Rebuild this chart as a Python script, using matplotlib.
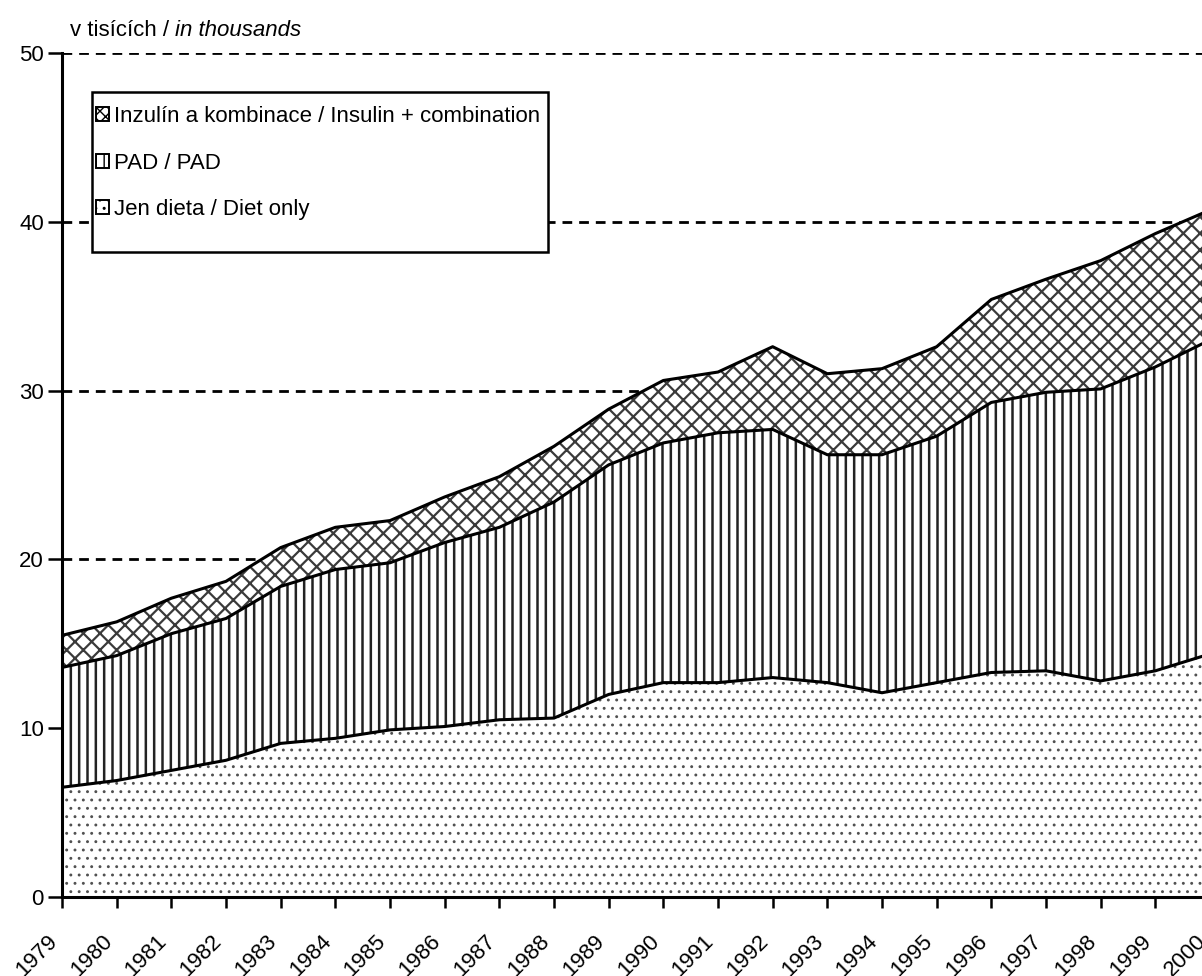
import numpy as np
import matplotlib
matplotlib.use("Agg")
import matplotlib.pyplot as plt
from matplotlib.patches import Patch, Rectangle

plt.rcParams['font.family'] = ['Liberation Sans', 'DejaVu Sans']

# Data (thousands of persons)
years = [1979, 1980, 1981, 1982, 1983, 1984, 1985, 1986, 1987, 1988, 1989,
         1990, 1991, 1992, 1993, 1994, 1995, 1996, 1997, 1998, 1999, 2000]
diet_only = [6.5, 6.9, 7.5, 8.1, 9.1, 9.4, 9.9, 10.1, 10.5, 10.6, 12.0,
             12.7, 12.7, 13.0, 12.7, 12.1, 12.7, 13.3, 13.4, 12.8, 13.4, 14.4]
pad = [7.1, 7.4, 8.1, 8.4, 9.3, 10.0, 9.9, 10.9, 11.4, 12.8, 13.6,
       14.2, 14.8, 14.7, 13.5, 14.1, 14.6, 16.0, 16.5, 17.3, 18.0, 18.6]
insulin = [1.9, 2.0, 2.1, 2.2, 2.3, 2.5, 2.5, 2.7, 3.0, 3.3, 3.3,
           3.7, 3.6, 4.9, 4.8, 5.1, 5.3, 6.1, 6.7, 7.6, 7.9, 7.7]

labels = ["Jen dieta / Diet only", "PAD / PAD",
          "Inzulín a kombinace / Insulin + combination"]
hatches = ['..', '||', 'xx']
hatch_colors = ['#505050', '#222222', '#3a3a3a']
hatch_widths = [0.9, 1.8, 1.6]

layers = np.array([diet_only, pad, insulin])
tops = np.cumsum(layers, axis=0)
bottoms = np.vstack([np.zeros(len(years)), tops[:-1]])

fig = plt.figure(figsize=(12.02, 9.76), dpi=100)
ax = fig.add_axes([62 / 1202, 79 / 976, 1148 / 1202, 844 / 976])

for i in range(3):
    with plt.rc_context({'hatch.linewidth': hatch_widths[i]}):
        ax.fill_between(years, bottoms[i], tops[i], facecolor='white',
                        edgecolor=hatch_colors[i], hatch=hatches[i],
                        linewidth=0, zorder=2)
    ax.plot(years, tops[i], color='black', linewidth=2.2, zorder=3)

ax.set_xlim(1979, 2000)
ax.set_ylim(0, 50)
ax.set_yticks([0, 10, 20, 30, 40, 50])
ax.set_xticks(years)
ax.set_xticklabels([str(y) for y in years], rotation=45, ha='right',
                   va='bottom', rotation_mode='anchor')

ax.yaxis.grid(True, color='black', linestyle=(0, (3.5, 2.5)), linewidth=2)
ax.set_axisbelow(True)

for s in ['top', 'right']:
    ax.spines[s].set_visible(False)
for s in ['left', 'bottom']:
    ax.spines[s].set_linewidth(2.2)
    ax.spines[s].set_zorder(5)

ax.tick_params(axis='y', direction='out', length=10, width=1.8,
               labelsize=16, pad=3)
ax.tick_params(axis='x', direction='out', length=8, width=1.8,
               labelsize=16, pad=27)

# legend box
frame = Rectangle((92 / 1202, 1 - 252 / 976), 456 / 1202, 160 / 976,
                  transform=fig.transFigure, facecolor='white',
                  edgecolor='black', linewidth=1.8, clip_on=False, zorder=6)
ax.add_patch(frame)

proxies = []
for h in ['xxx', '||', '..']:
    with plt.rc_context({'hatch.linewidth': 1.3}):
        proxies.append(Patch(facecolor='white', edgecolor='black', hatch=h,
                             linewidth=1.4))
leg = ax.legend(proxies, labels[::-1], loc='upper left',
                bbox_to_anchor=(96 / 1202, 1 - 106 / 976),
                bbox_transform=fig.transFigure, fontsize=16,
                frameon=False, handlelength=0.58, handleheight=0.58,
                handletextpad=0.25, labelspacing=1.15, borderpad=0,
                borderaxespad=0)
leg.set_zorder(7)

t1 = fig.text(70 / 1202, 1 - 30 / 976, "v tisících / ", fontsize=16,
              ha='left', va='center')
fig.canvas.draw()
bb = t1.get_window_extent()
fig.text(bb.x1 / fig.bbox.width, 1 - 30 / 976, "in thousands", fontsize=16,
         style='italic', ha='left', va='center')

fig.savefig('out.png', dpi=100)
